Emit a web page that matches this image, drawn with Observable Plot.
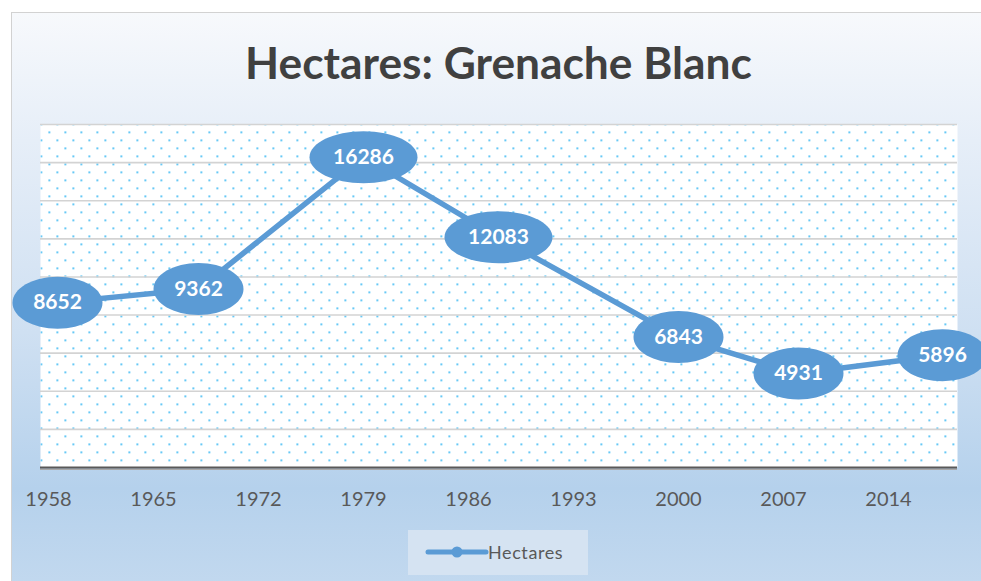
<!DOCTYPE html>
<html>
<head>
<meta charset="utf-8">
<script src="https://cdn.jsdelivr.net/npm/d3@7"></script>
<script src="https://cdn.jsdelivr.net/npm/@observablehq/plot@0.6"></script>
<style>
  html, body { margin: 0; padding: 0; background: #ffffff; }
  #chart { position: relative; width: 981px; height: 581px; overflow: hidden; background: #ffffff; font-family: Lato, "Open Sans", sans-serif; }
  #frame { position: absolute; left: 11px; top: 12px; width: 980px; height: 580px; border-left: 1px solid #d2d2d2; border-top: 1px solid #d2d2d2;
    background: linear-gradient(to bottom, #f7f9fc 0%, #e6eef8 22%, #cfe0f2 55%, #b5d1ec 82%, #c3d9ef 100%); }
  #title { position: absolute; left: 0; width: 997px; top: 0; text-align: center; font-weight: 700; color: #404040; white-space: nowrap; }
  #plot { position: absolute; left: 0; top: 0; }
  #legend { position: absolute; left: 408px; top: 530px; width: 180px; height: 45px; background: #d5e3f2; }
  #legend svg { position: absolute; left: 0; top: 0; }
  #legend span { position: absolute; left: 80px; top: 11px; font-size: 18px; color: #595959; letter-spacing: 0.6px; }
</style>
</head>
<body>
<div id="chart">
  <div id="frame"></div>
  <div id="title">Hectares: Grenache Blanc</div>
  <div id="plot"></div>
  <div id="legend">
    <svg width="180" height="45"><line x1="20" x2="78" y1="22" y2="22" stroke="#5b9bd5" stroke-width="5" stroke-linecap="round"/><circle cx="49" cy="22" r="5.5" fill="#5b9bd5"/></svg>
    <span>Hectares</span>
  </div>
</div>
<script>
const titleText = "Hectares: Grenache Blanc";
const years = [1958.6, 1968, 1979, 1988, 2000, 2008, 2017.6];
const hectares = [8652, 9362, 16286, 12083, 6843, 4931, 5896];
const xTicks = [1958, 1965, 1972, 1979, 1986, 1993, 2000, 2007, 2014];
const yGrid = [2000, 4000, 6000, 8000, 10000, 12000, 14000, 16000, 18000];

const data = years.map((year, i) => ({year, value: hectares[i]}));

// fit title width
(function () {
  const t = document.getElementById("title");
  const c = document.createElement("canvas").getContext("2d");
  c.font = "700 100px Lato";
  const w = c.measureText(titleText).width;
  const fs = 100 * 507 / w;
  t.style.fontSize = fs + "px";
  t.style.lineHeight = fs + "px";
  t.style.top = (79 - 0.987 * fs + (1.2 * fs - fs) / 2) + "px";
})();

const ellipse = {
  draw(ctx, size) {
    const rx = Math.sqrt(size / Math.PI), ry = 26, k = 0.5523;
    ctx.moveTo(rx, 0);
    ctx.bezierCurveTo(rx, k * ry, k * rx, ry, 0, ry);
    ctx.bezierCurveTo(-k * rx, ry, -rx, k * ry, -rx, 0);
    ctx.bezierCurveTo(-rx, -k * ry, -k * rx, -ry, 0, -ry);
    ctx.bezierCurveTo(k * rx, -ry, rx, -k * ry, rx, 0);
    ctx.closePath();
  }
};

const blue = "#5b9bd5";

const chart = Plot.plot({
  width: 981,
  height: 581,
  marginLeft: 40,
  marginRight: 24,
  marginTop: 124,
  marginBottom: 114,
  style: { background: "transparent", fontFamily: "Lato, 'Open Sans', sans-serif", overflow: "visible" },
  x: { domain: [1957.467, 2018.6], axis: null, label: null },
  y: { domain: [0, 18000], axis: null, label: null },
  r: { type: "identity" },
  marks: [
    Plot.frame({ fill: "white", stroke: "none" }),
    Plot.frame({ fill: "url(#dotpat)", stroke: "none" }),
    Plot.ruleY(yGrid, { stroke: "#d3d3d3", strokeWidth: 1.6 }),
    Plot.ruleY([0], { stroke: "#a8a8a8", strokeWidth: 1.5, dy: 1.8 }),
    Plot.ruleY([0], { stroke: "#595959", strokeWidth: 2 }),
    Plot.axisX({ ticks: xTicks, tickFormat: "d", tickSize: 0, tickPadding: 24, fontSize: 20, color: "#595959", fill: "#595959", label: null }),
    Plot.line(data, { x: "year", y: "value", stroke: blue, strokeWidth: 5.5, strokeLinejoin: "round" }),
    Plot.dot(data, { x: "year", y: "value", r: d => String(d.value).length > 4 ? 54 : 45, symbol: ellipse, fill: blue, stroke: "none" }),
    Plot.text(data, { x: "year", y: "value", text: d => String(d.value), fill: "white", fontSize: 21, fontWeight: 700 })
  ]
});

const ns = "http://www.w3.org/2000/svg";
const defs = document.createElementNS(ns, "defs");
const pat = document.createElementNS(ns, "pattern");
pat.setAttribute("id", "dotpat");
pat.setAttribute("patternUnits", "userSpaceOnUse");
pat.setAttribute("width", "16");
pat.setAttribute("height", "16");
[[0, 3], [8, 11]].forEach(([x, y]) => {
  const r = document.createElementNS(ns, "rect");
  r.setAttribute("x", x); r.setAttribute("y", y);
  r.setAttribute("width", "1.6"); r.setAttribute("height", "1.6");
  r.setAttribute("fill", "#12aaf0");
  pat.appendChild(r);
});
defs.appendChild(pat);
chart.insertBefore(defs, chart.firstChild);
document.getElementById("plot").appendChild(chart);
</script>
</body>
</html>
